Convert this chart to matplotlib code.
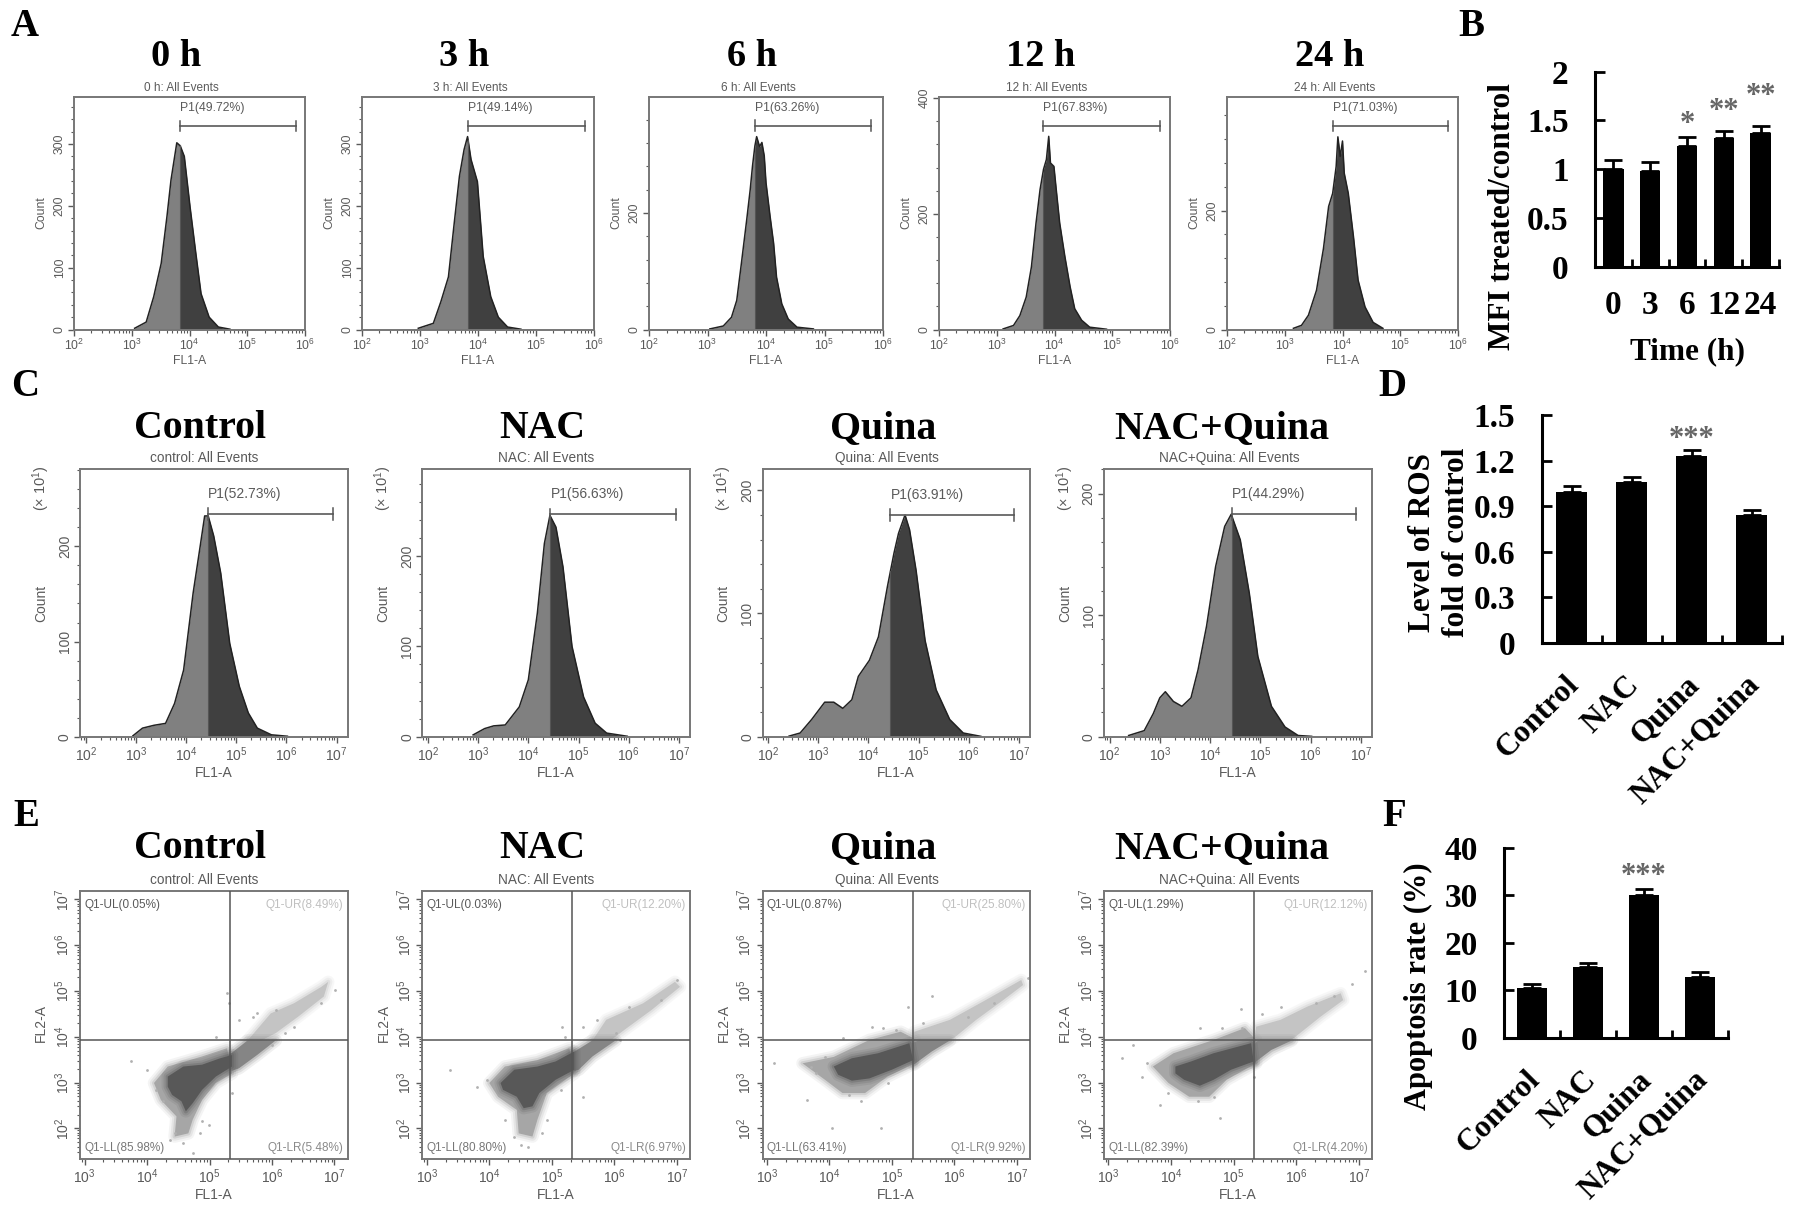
import numpy as np
import matplotlib
matplotlib.use('Agg')
import matplotlib.pyplot as plt
from matplotlib.ticker import LogLocator, NullFormatter, MultipleLocator

W, H = 1795, 1213
SERIF = 'Liberation Serif'
SANS = 'Liberation Sans'
GREY = '#5a5a5a'

plt.rcParams['font.family'] = SANS
plt.rcParams['mathtext.fontset'] = 'custom'
plt.rcParams['mathtext.rm'] = SANS
plt.rcParams['mathtext.default'] = 'regular'

# panel A: histograms, log10(FL1-A) and count
a0_x = [3.05, 3.25, 3.38, 3.51, 3.61, 3.68, 3.78, 3.84, 3.91, 4.01, 4.11, 4.20, 4.34, 4.50, 4.70]
a0_y = [2, 12, 53, 107, 183, 242, 302, 297, 280, 198, 123, 58, 20, 4, 0.5]
a3_x = [2.97, 3.23, 3.36, 3.49, 3.59, 3.68, 3.76, 3.82, 3.88, 3.99, 4.09, 4.22, 4.35, 4.51, 4.74]
a3_y = [2, 10, 45, 85, 172, 248, 291, 312, 275, 239, 118, 53, 20, 4, 0.5]
a6_x = [3.04, 3.27, 3.41, 3.50, 3.58, 3.67, 3.73, 3.77, 3.81, 3.84, 3.89, 3.93, 3.97, 4.00, 4.07, 4.13, 4.18, 4.27, 4.38, 4.53, 4.81]
a6_y = [1, 6, 21, 50, 114, 188, 240, 281, 315, 331, 314, 321, 298, 252, 194, 148, 90, 44, 18, 4, 1]
a12_x = [3.11, 3.29, 3.40, 3.51, 3.60, 3.68, 3.75, 3.81, 3.86, 3.90, 3.93, 3.99, 4.03, 4.09, 4.18, 4.27, 4.35, 4.47, 4.61, 4.90]
a12_y = [1, 7, 24, 56, 108, 184, 242, 277, 294, 334, 288, 282, 242, 184, 126, 74, 36, 16, 4, 0.5]
a24_x = [3.15, 3.29, 3.41, 3.55, 3.67, 3.76, 3.83, 3.89, 3.92, 3.96, 4.00, 4.03, 4.10, 4.19, 4.27, 4.39, 4.53, 4.70]
a24_y = [2, 7, 24, 66, 136, 207, 229, 274, 324, 291, 317, 263, 229, 156, 83, 38, 12, 2]

a_titles = ['0 h', '3 h', '6 h', '12 h', '24 h']
a_pct = ['49.72', '49.14', '63.26', '67.83', '71.03']
a_gate_lo = [3.83, 3.83, 3.81, 3.80, 3.83]
a_gate_hi = [5.84, 5.84, 5.80, 5.83, 5.83]
a_gate_y = [329, 329, 350, 352, 342]
a_ymax = [376, 376, 399, 402, 391]
a_ymajor = [[0, 100, 200, 300], [0, 100, 200, 300], [0, 200], [0, 200, 400], [0, 200]]
a_yminor = [20, 20, 40, 40, 40]

# panel C: histograms
c_ctrl_x = [2.94, 3.13, 3.36, 3.59, 3.77, 3.95, 4.14, 4.28, 4.37, 4.44, 4.55, 4.69, 4.87, 5.06, 5.24, 5.42, 5.70, 6.02]
c_ctrl_y = [1, 9, 12, 14, 35, 70, 151, 200, 232, 232, 211, 172, 98, 53, 25, 9, 2, 0.5]
c_nac_x = [2.90, 3.13, 3.31, 3.54, 3.82, 4.00, 4.18, 4.32, 4.43, 4.55, 4.69, 4.87, 5.10, 5.33, 5.56, 5.97]
c_nac_y = [2, 9, 12, 13, 33, 63, 137, 214, 245, 232, 188, 100, 44, 15, 4, 0.5]
c_quina_x = [2.42, 2.64, 2.87, 3.13, 3.31, 3.49, 3.67, 3.80, 4.02, 4.20, 4.38, 4.51, 4.60, 4.73, 4.82, 4.95, 5.13, 5.35, 5.62, 5.89, 6.24]
c_quina_y = [0.5, 3, 14, 28, 28, 23, 30, 49, 62, 81, 122, 149, 165, 180, 168, 135, 78, 38, 14, 3, 0.3]
c_both_x = [2.38, 2.69, 2.87, 3.00, 3.11, 3.27, 3.44, 3.62, 3.76, 3.93, 4.11, 4.29, 4.42, 4.60, 4.78, 4.95, 5.22, 5.49, 5.75, 6.02]
c_both_y = [1, 5, 19, 32, 37, 29, 25, 32, 55, 91, 140, 173, 183, 162, 118, 66, 25, 8, 1, 0.3]

groups = ['Control', 'NAC', 'Quina', 'NAC+Quina']
sub_titles = ['control: All Events', 'NAC: All Events', 'Quina: All Events', 'NAC+Quina: All Events']
c_pct = ['52.73', '56.63', '63.91', '44.29']
c_gate_lo = [4.43, 4.44, 4.44, 4.44]
c_gate_hi = [6.93, 6.94, 6.91, 6.91]
c_gate_y = [234, 246, 180, 183]
c_ymax = [281, 296, 217, 220]

# panel E: gated clouds as log10 outlines (core, halo, lower tail, upper tail) and stray events
e_pct = [['0.05', '8.49', '85.98', '5.48'], ['0.03', '12.20', '80.80', '6.97'],
         ['0.87', '25.80', '63.41', '9.92'], ['1.29', '12.12', '82.39', '4.20']]
e_vline = [5.32, 5.32, 5.33, 5.32]
e_hline = [3.92, 3.92, 3.92, 3.92]

ctrl_core = [(4.33, 3.13), (4.58, 3.35), (4.88, 3.39), (5.17, 3.53), (5.36, 3.60), (5.36, 3.35), (5.10, 3.13), (4.88, 2.84), (4.73, 2.55), (4.62, 2.37), (4.55, 2.59), (4.40, 2.73), (4.33, 2.91)]
ctrl_halo = [(4.11, 2.99), (4.33, 3.35), (4.88, 3.57), (5.28, 3.75), (5.36, 3.20), (5.10, 2.99), (4.88, 2.62), (4.73, 2.19), (4.66, 1.89), (4.44, 1.82), (4.47, 2.26), (4.22, 2.62)]
ctrl_low = [(5.28, 3.57), (5.61, 3.92), (6.06, 3.92), (5.76, 3.60), (5.47, 3.31), (5.32, 3.24)]
ctrl_up = [(5.61, 3.92), (5.98, 4.51), (6.35, 4.73), (6.79, 5.09), (6.90, 5.20), (6.83, 4.88), (6.42, 4.44), (6.06, 4.08), (5.83, 3.92)]
ctrl_dots = [(3.74, 3.46), (4.00, 3.28), (4.14, 2.84), (4.25, 2.59), (4.44, 1.89), (4.36, 1.75), (4.58, 1.68), (4.73, 1.46), (4.88, 2.15), (4.84, 1.89), (4.99, 2.08), (5.36, 2.77), (5.28, 4.95), (5.31, 4.73), (5.10, 4.00), (5.47, 4.37), (5.69, 4.44), (6.06, 4.59), (6.35, 4.22), (7.01, 5.02), (6.20, 4.08), (5.76, 4.51), (6.79, 4.73), (6.00, 3.82)]

nac_core = [(4.18, 2.99), (4.40, 3.28), (4.77, 3.35), (5.06, 3.46), (5.36, 3.68), (5.36, 3.28), (5.06, 3.06), (4.80, 2.77), (4.69, 2.48), (4.55, 2.44), (4.44, 2.69), (4.22, 2.84)]
nac_halo = [(4.00, 2.99), (4.25, 3.35), (4.77, 3.49), (5.28, 3.75), (5.36, 3.20), (4.92, 2.77), (4.77, 2.19), (4.69, 1.82), (4.47, 1.89), (4.44, 2.40), (4.14, 2.69)]
nac_low = [(5.32, 3.64), (5.65, 3.92), (6.02, 3.92), (5.65, 3.57), (5.43, 3.28), (5.32, 3.24)]
nac_up = [(5.65, 3.92), (5.87, 4.37), (6.46, 4.73), (6.97, 5.20), (7.05, 5.09), (6.60, 4.59), (6.16, 4.15), (5.94, 3.92)]
nac_dots = [(3.37, 3.28), (3.81, 2.91), (3.96, 3.06), (4.25, 2.19), (4.40, 1.82), (4.51, 1.64), (4.84, 1.89), (4.92, 2.19), (4.62, 1.60), (5.17, 4.22), (5.21, 4.00), (5.14, 2.84), (5.50, 2.69), (5.50, 4.22), (5.72, 4.37), (6.02, 4.08), (6.24, 4.66), (6.75, 4.80), (7.01, 5.24), (6.09, 3.93)]

quina_core = [(4.07, 3.35), (4.36, 3.53), (4.78, 3.64), (5.28, 3.86), (5.34, 3.49), (5.00, 3.28), (4.64, 3.09), (4.36, 3.04), (4.14, 3.17)]
quina_halo = [(3.57, 3.42), (4.07, 3.56), (4.64, 3.93), (5.14, 4.11), (5.36, 3.96), (5.36, 3.42), (4.93, 3.13), (4.57, 2.77), (4.21, 2.77), (3.93, 3.06)]
quina_low = [(5.32, 3.86), (5.43, 3.92), (5.93, 3.92), (5.64, 3.68), (5.35, 3.39)]
quina_up = [(5.34, 3.92), (5.36, 4.11), (5.93, 4.37), (6.50, 4.80), (7.07, 5.24), (7.10, 5.13), (6.78, 4.80), (6.35, 4.37), (5.99, 3.97), (5.89, 3.92)]
quina_dots = [(3.11, 3.42), (3.64, 2.62), (4.04, 2.00), (4.82, 2.00), (4.50, 2.59), (4.32, 2.73), (3.93, 3.56), (3.79, 3.20), (4.21, 3.97), (4.68, 4.22), (4.86, 4.20), (5.07, 4.14), (5.25, 4.66), (5.64, 4.88), (5.50, 4.30), (7.17, 5.28), (6.21, 4.44), (6.64, 4.73), (3.71, 3.35), (4.93, 2.99)]

both_core = [(4.07, 3.35), (4.32, 3.46), (4.68, 3.64), (5.28, 3.86), (5.32, 3.46), (4.96, 3.28), (4.68, 3.06), (4.46, 2.93), (4.21, 3.06), (4.07, 3.20)]
both_halo = [(3.71, 3.35), (4.04, 3.64), (4.68, 3.93), (5.18, 4.19), (5.36, 3.93), (5.36, 3.42), (4.89, 3.06), (4.61, 2.69), (4.29, 2.69), (3.96, 2.99)]
both_low = [(5.32, 3.82), (5.39, 3.92), (5.93, 3.92), (5.60, 3.71), (5.32, 3.42)]
both_up = [(5.33, 3.92), (5.36, 4.22), (5.75, 4.37), (6.18, 4.66), (6.71, 4.95), (6.75, 4.80), (6.39, 4.44), (5.96, 3.97), (5.89, 3.92)]
both_dots = [(3.22, 3.53), (3.39, 3.82), (3.82, 2.52), (4.43, 2.59), (4.78, 2.23), (3.54, 3.13), (3.61, 3.42), (4.47, 4.20), (4.82, 4.20), (5.11, 4.60), (5.14, 4.20), (5.46, 4.49), (5.75, 4.64), (6.89, 5.15), (7.10, 5.44), (6.32, 4.73), (6.60, 4.88), (3.96, 2.77), (4.68, 2.69), (5.32, 3.13)]

# bar panels
b_cats = ['0', '3', '6', '12', '24']
b_vals = [1.0, 0.98, 1.24, 1.32, 1.37]
b_errs = [0.09, 0.09, 0.09, 0.07, 0.07]
b_stars = ['', '', '*', '**', '**']
b_star_y = [0, 0, 1.54, 1.675, 1.83]

d_vals = [0.995, 1.06, 1.23, 0.84]
d_errs = [0.04, 0.03, 0.04, 0.035]
f_vals = [10.4, 14.9, 30.0, 12.9]
f_errs = [0.9, 0.9, 1.3, 1.0]

fig = plt.figure(figsize=(W / 100, H / 100), dpi=100)


def axes_px(l, t, r, b):
    return fig.add_axes([l / W, 1 - b / H, (r - l) / W, (b - t) / H])


def put(x, y, s, **kw):
    kw.setdefault('ha', 'center')
    kw.setdefault('va', 'center')
    fig.text(x / W, 1 - y / H, s, **kw)


def style_box(ax, size):
    for s in ax.spines.values():
        s.set_color('#777777')
        s.set_linewidth(1.4)
    ax.tick_params(which='major', length=4, width=1, color=GREY, labelcolor=GREY, labelsize=size, pad=2)
    ax.tick_params(which='minor', length=2.2, width=0.8, color=GREY)


def log_axis(axis):
    axis.set_major_locator(LogLocator(base=10, numticks=12))
    axis.set_minor_locator(LogLocator(base=10, subs=np.arange(2, 10), numticks=12))
    axis.set_minor_formatter(NullFormatter())


def histogram(ax, xs, ys, lo, hi, gate_y, pct, xlim, ymax, major, minor, size, lift):
    xs = np.array(xs)
    ys = np.array(ys, dtype=float)
    at_gate = np.interp(lo, xs, ys)
    lx = np.append(xs[xs < lo], lo)
    ly = np.append(ys[xs < lo], at_gate)
    rx = np.insert(xs[xs > lo], 0, lo)
    ry = np.insert(ys[xs > lo], 0, at_gate)
    ax.fill_between(10 ** lx, ly, color='#808080', lw=0)
    ax.fill_between(10 ** rx, ry, color='#404040', lw=0)
    ax.plot(10 ** xs, ys, color='#222222', lw=1.1)
    ax.plot([10 ** lo, 10 ** lo], [0, at_gate], color='#555555', lw=0.8)
    ax.plot([10 ** lo, 10 ** hi], [gate_y, gate_y], color='#666666', lw=1.3)
    tick = ymax * 0.022
    for g in (lo, hi):
        ax.plot([10 ** g, 10 ** g], [gate_y - tick, gate_y + tick], color='#555555', lw=1.1)
    ax.annotate('P1(%s%%)' % pct, (10 ** lo, gate_y), xytext=(0, lift), textcoords='offset points',
                color=GREY, fontsize=size, ha='left', va='center')
    ax.set_xscale('log')
    ax.set_xlim(10 ** xlim[0], 10 ** xlim[1])
    ax.set_ylim(0, ymax)
    log_axis(ax.xaxis)
    ax.set_yticks(major)
    ax.yaxis.set_minor_locator(MultipleLocator(minor))
    style_box(ax, size)
    ax.tick_params(axis='y', labelrotation=90)
    for t in ax.get_yticklabels():
        t.set_va('center')


# A
a_left = [74, 362, 649, 939, 1227]
a_right = [305, 594, 883, 1170, 1458]
a_data = [(a0_x, a0_y), (a3_x, a3_y), (a6_x, a6_y), (a12_x, a12_y), (a24_x, a24_y)]
a_title_x = [176, 464, 752, 1041, 1330]
for i in range(5):
    ax = axes_px(a_left[i], 97, a_right[i], 329.5)
    histogram(ax, a_data[i][0], a_data[i][1], a_gate_lo[i], a_gate_hi[i], a_gate_y[i], a_pct[i],
              (2, 6), a_ymax[i], a_ymajor[i], a_yminor[i], 8.8, 12.7)
    cx = (a_left[i] + a_right[i]) / 2
    put(a_title_x[i], 57, a_titles[i], family=SERIF, weight='bold', fontsize=27.6)
    put(cx - 8, 88, a_titles[i] + ': All Events', color=GREY, fontsize=8.5)
    put(cx, 361, 'FL1-A', color=GREY, fontsize=8.8)
    put(a_left[i] - 33, 213, 'Count', color=GREY, fontsize=8.8, rotation=90)

# C
c_left = [80.3, 422.4, 762.5, 1104]
c_right = [347.6, 690, 1030, 1372]
c_data = [(c_ctrl_x, c_ctrl_y), (c_nac_x, c_nac_y), (c_quina_x, c_quina_y), (c_both_x, c_both_y)]
group_x = [200, 542, 883, 1222]
sub_x = [204, 546, 887, 1229]
for i in range(4):
    ax = axes_px(c_left[i], 469.3, c_right[i], 736.7)
    histogram(ax, c_data[i][0], c_data[i][1], c_gate_lo[i], c_gate_hi[i], c_gate_y[i], c_pct[i],
              (1.89, 7.22), c_ymax[i], [0, 100, 200], 20, 10, 14.4)
    put(group_x[i], 429, groups[i], family=SERIF, weight='bold', fontsize=28.6)
    put(sub_x[i], 458, sub_titles[i], color=GREY, fontsize=9.8)
    put((c_left[i] + c_right[i]) / 2, 773, 'FL1-A', color=GREY, fontsize=10)
    put(c_left[i] - 39, 603, 'Count', color=GREY, fontsize=10, rotation=90)
    put(c_left[i] - 39, 488, r'($\times$ 10$^{1}$)', color=GREY, fontsize=10.5, rotation=90)

# E
e_shapes = [(ctrl_core, ctrl_halo, ctrl_low, ctrl_up, ctrl_dots),
            (nac_core, nac_halo, nac_low, nac_up, nac_dots),
            (quina_core, quina_halo, quina_low, quina_up, quina_dots),
            (both_core, both_halo, both_low, both_up, both_dots)]


def pow_pts(pts):
    return [(10 ** a, 10 ** b) for a, b in pts]


def soft_fill(ax, pts, color, alpha, z):
    # thick see-through edges feather the outline, the cloud has no hard border
    xy = list(zip(*pow_pts(pts)))
    for lw, a in [(9, 0.12), (6, 0.18), (3, 0.3)]:
        ax.fill(*xy, facecolor='none', edgecolor=color, alpha=a, lw=lw, joinstyle='round', zorder=z)
    ax.fill(*xy, color=color, alpha=alpha, lw=0, zorder=z)


for i in range(4):
    ax = axes_px(c_left[i], 890.7, c_right[i], 1159)
    core, halo, low, up, dots = e_shapes[i]
    ax.set_xscale('log')
    ax.set_yscale('log')
    soft_fill(ax, up, '#c4c4c4', 1, 1)
    soft_fill(ax, halo, '#a6a6a6', 1, 2)
    soft_fill(ax, low, '#858585', 1, 2)
    soft_fill(ax, core, '#585858', 1, 3)
    d = np.array(pow_pts(dots))
    ax.scatter(d[:, 0], d[:, 1], s=4, color='#b0b0b0', lw=0, zorder=2)
    ax.axvline(10 ** e_vline[i], color='#555555', lw=1.1, zorder=4)
    ax.axhline(10 ** e_hline[i], color='#555555', lw=1.1, zorder=4)
    ax.set_xlim(10 ** 2.93, 10 ** 7.21)
    ax.set_ylim(10 ** 1.33, 10 ** 7.19)
    log_axis(ax.xaxis)
    log_axis(ax.yaxis)
    style_box(ax, 10)
    ax.tick_params(axis='y', labelrotation=90)
    for t in ax.get_yticklabels():
        t.set_va('center')
    ul, ur, ll, lr = e_pct[i]
    tx = dict(transform=ax.transAxes, fontsize=8.5, va='center')
    ax.text(0.015, 0.948, 'Q1-UL(%s%%)' % ul, color=GREY, ha='left', **tx)
    ax.text(0.985, 0.948, 'Q1-UR(%s%%)' % ur, color='#c0c0c0', ha='right', **tx)
    ax.text(0.015, 0.04, 'Q1-LL(%s%%)' % ll, color='#777777', ha='left', **tx)
    ax.text(0.985, 0.04, 'Q1-LR(%s%%)' % lr, color='#8a8a8a', ha='right', **tx)
    put(group_x[i], 849, groups[i], family=SERIF, weight='bold', fontsize=28.6)
    put(sub_x[i], 880, sub_titles[i], color=GREY, fontsize=9.8)
    put((c_left[i] + c_right[i]) / 2, 1195, 'FL1-A', color=GREY, fontsize=10)
    put(c_left[i] - 39, 1023, 'FL2-A', color=GREY, fontsize=10, rotation=90)


def bars(ax, cats, vals, errs, ymax, yticks, width, rot):
    n = len(vals)
    pos = np.arange(n)
    ax.bar(pos, vals, width=width, color='black', yerr=[np.zeros(n), errs],
           error_kw=dict(ecolor='black', elinewidth=2, capsize=6.5, capthick=2))
    ax.set_xlim(-0.5, n - 0.5)
    ax.set_ylim(0, ymax)
    ax.spines['top'].set_visible(False)
    ax.spines['right'].set_visible(False)
    ax.spines['left'].set_linewidth(2.2)
    ax.spines['bottom'].set_linewidth(2.2)
    ax.set_yticks(yticks)
    ax.set_yticklabels(['%g' % v for v in yticks], family=SERIF, weight='bold', fontsize=24)
    ax.tick_params(axis='y', direction='in', length=7.5, width=2, pad=19)
    ax.set_xticks(list(pos + 0.5))
    ax.set_xticklabels([])
    ax.tick_params(axis='x', which='major', direction='in', length=6, width=2)
    ax.set_xticks(pos, minor=True)
    if rot:
        ax.set_xticklabels(cats, minor=True, family=SERIF, weight='bold', fontsize=22.5,
                           rotation=45, ha='right', rotation_mode='anchor')
        ax.tick_params(axis='x', which='minor', length=0, pad=20)
        offset = matplotlib.transforms.ScaledTranslation(-5 / 72, 0, fig.dpi_scale_trans)
        for t in ax.xaxis.get_minorticklabels():
            t.set_transform(t.get_transform() + offset)
    else:
        ax.set_xticklabels(cats, minor=True, family=SERIF, weight='bold', fontsize=24)
        ax.tick_params(axis='x', which='minor', length=0, pad=17)


def star(ax, x, y, s):
    ax.text(x, y, s, color='#666666', family=SERIF, weight='bold', fontsize=22, ha='center', va='center')


# B
ax = axes_px(1595, 71.7, 1779, 266.7)
bars(ax, b_cats, b_vals, b_errs, 2, [0, 0.5, 1, 1.5, 2], 0.55, False)
for i, s in enumerate(b_stars):
    if s:
        star(ax, i, b_star_y[i] - 0.08, s)
put(1688, 352, 'Time (h)', family=SERIF, weight='bold', fontsize=22.5)
put(1502, 217, 'MFI treated/control', family=SERIF, weight='bold', fontsize=22.5, rotation=90)

# D
ax = axes_px(1541.7, 415, 1781.7, 642.7)
bars(ax, groups, d_vals, d_errs, 1.5, [0, 0.3, 0.6, 0.9, 1.2, 1.5], 0.51, True)
star(ax, 2, 1.386 - 0.045, '***')
put(1422, 542, 'Level of ROS', family=SERIF, weight='bold', fontsize=22.5, rotation=90)
put(1456, 542, 'fold of control', family=SERIF, weight='bold', fontsize=22.5, rotation=90)

# F
ax = axes_px(1504, 848, 1728, 1037.7)
bars(ax, groups, f_vals, f_errs, 40, [0, 10, 20, 30, 40], 0.52, True)
star(ax, 2, 35.6 - 1.6, '***')
put(1418, 986, 'Apoptosis rate (%)', family=SERIF, weight='bold', fontsize=22, rotation=90)

for letter, x, y in [('A', 25, 27), ('B', 1471, 27), ('C', 25, 386), ('D', 1392, 386), ('E', 26, 816), ('F', 1394, 816)]:
    put(x, y, letter, family=SERIF, weight='bold', fontsize=28)

fig.savefig('out.png', dpi=100)
